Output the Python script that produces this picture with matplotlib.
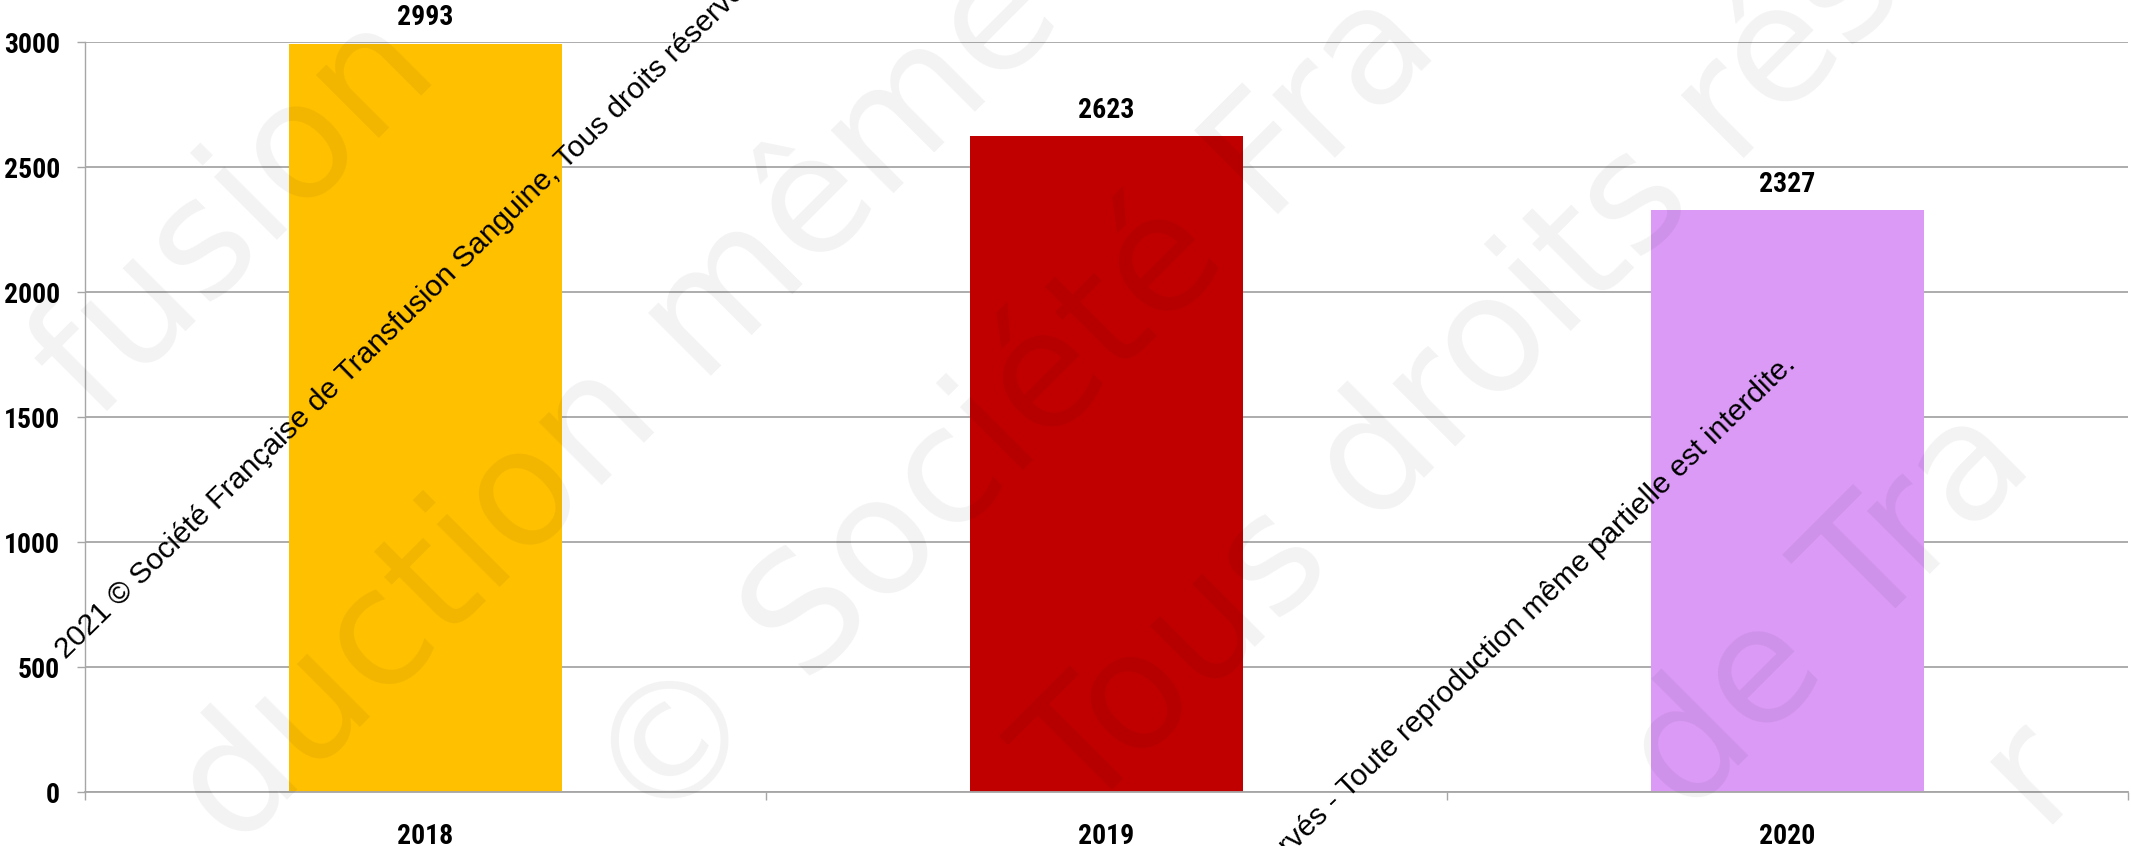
import matplotlib
matplotlib.use("Agg")
import matplotlib.pyplot as plt
from matplotlib import font_manager
import numpy as np

years = ["2018", "2019", "2020"]
values = [2993, 2623, 2327]
colors = ["#FFC000", "#C00000", "#DA9AF6"]

W, H = 2131, 846

# the original labels are in a narrow bold face; use one if installed
names = {f.name for f in font_manager.fontManager.ttflist}
narrow = [n for n in ["Liberation Sans Narrow", "Roboto Condensed",
                      "Open Sans Condensed", "Noto Sans Condensed"] if n in names]
if narrow:
    label_font, label_size = [narrow[0], "DejaVu Sans"], 20
else:
    label_font, label_size = ["Liberation Sans", "DejaVu Sans"], 18

fig = plt.figure(figsize=(W / 100, H / 100), dpi=100)
ax = fig.add_axes([85 / W, 1 - 792 / H, (2128 - 85) / W, (792 - 42) / H])

x = np.arange(len(years))
ax.bar(x, values, width=0.4, color=colors, zorder=2)

ax.set_xlim(-0.5, 2.5)
ax.set_ylim(0, 3000)
ax.set_yticks(np.arange(0, 3001, 500))
ax.yaxis.grid(True, color="#a6a6a6", lw=1.3)
ax.set_axisbelow(True)

for s in ["top", "right"]:
    ax.spines[s].set_visible(False)
ax.spines["left"].set_color("#a6a6a6")
ax.spines["left"].set_linewidth(1.0)
ax.spines["bottom"].set_color("#a6a6a6")
ax.spines["bottom"].set_linewidth(1.3)

ax.set_xticks(x)
ax.set_xticklabels(years)
ax.set_xticks(np.arange(-0.5, 2.6, 1), minor=True)
ax.tick_params(axis="x", which="major", length=0, pad=22)
ax.tick_params(axis="x", which="minor", length=6, color="#a6a6a6", width=1)
ax.tick_params(axis="y", length=6, color="#a6a6a6", width=1, pad=12)
for lab in ax.get_xticklabels() + ax.get_yticklabels():
    lab.set_fontfamily(label_font)
    lab.set_fontweight("bold")
    lab.set_fontsize(label_size)

for xi, v in zip(x, values):
    ax.annotate(str(v), (xi, v), xytext=(0, 9), textcoords="offset points",
                ha="center", va="bottom", fontsize=label_size,
                fontweight="bold", family=label_font, annotation_clip=False)

# big pale watermark (pixel positions of fragment centres)
wm = [
    ("fusion", 235, 215),
    ("duction même", 619, 404),
    ("© Société Fra", 1017, 413),
    ("Tous droits rés", 1465, 375),
    ("de Tra", 1830, 610),
    ("r", 2030, 770),
]
for s, px, py in wm:
    fig.text(px / W, 1 - py / H, s, rotation=45, ha="center", va="center",
             fontsize=117, color="black", alpha=0.05, family="DejaVu Sans",
             zorder=5)

# small black copyright line
note = ("2021 © Société Française de Transfusion Sanguine, Tous droits "
        "réservés - Toute reproduction même partielle est interdite.")
fig.text(66 / W, 1 - 660 / H, note, rotation=44.4, rotation_mode="anchor",
         ha="left", va="baseline", fontsize=21.5, family="Liberation Sans",
         zorder=6)
fig.text(1797 / W, 1 - 366 / H, note, rotation=44, rotation_mode="anchor",
         ha="right", va="baseline", fontsize=21.5, family="Liberation Sans",
         zorder=6)

fig.savefig("out.png", dpi=100)
